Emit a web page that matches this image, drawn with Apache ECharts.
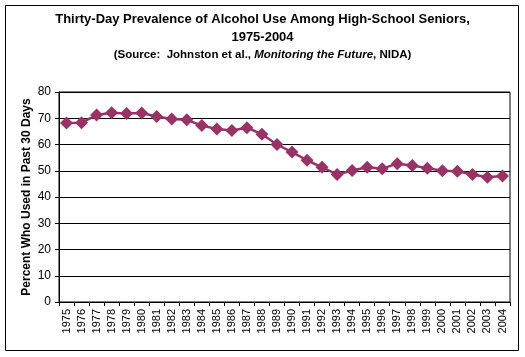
<!DOCTYPE html>
<html><head><meta charset="utf-8">
<script src="https://cdn.jsdelivr.net/npm/echarts@6/dist/echarts.min.js"></script>
<style>html,body{margin:0;padding:0;background:#fff}#c{width:525px;height:357px}</style>
</head><body><div id="c"></div>
<script>
var years = ['1975','1976','1977','1978','1979','1980','1981','1982','1983','1984','1985','1986','1987','1988','1989','1990','1991','1992','1993','1994','1995','1996','1997','1998','1999','2000','2001','2002','2003','2004'];
var prevalence = [68.2,68.3,71.2,72.1,71.8,72.0,70.7,69.7,69.4,67.2,65.9,65.3,66.4,63.9,60.0,57.1,54.0,51.3,48.6,50.1,51.3,50.8,52.7,52.0,51.0,50.0,49.8,48.6,47.5,48.0];
var yTicks = [0,10,20,30,40,50,60,70,80];

var chart = echarts.init(document.getElementById('c'), null, {renderer:'canvas'});
var F = 'Liberation Sans, Arial, sans-serif';
chart.setOption({
  backgroundColor:'#fff',
  animation:false,
  title:{
    left:'center', top:6, itemGap:0,
    text:'{a|Thirty-Day Prevalence of Alcohol Use Among High-School Seniors,}\n{a|1975-2004}\n{b|(Source:  Johnston et al., }{i|Monitoring the Future}{b|, NIDA)}',
    textStyle:{
      rich:{
        a:{fontFamily:F,fontSize:13,fontWeight:'bold',color:'#000',lineHeight:17.5},
        b:{fontFamily:F,fontSize:11.5,fontWeight:'bold',color:'#000',lineHeight:17.5},
        i:{fontFamily:F,fontSize:11.5,fontWeight:'bold',fontStyle:'italic',color:'#000',lineHeight:17.5}
      }
    }
  },
  graphic:[{type:'rect',shape:{x:5.5,y:5.5,width:513,height:345},style:{fill:null,stroke:'#000',lineWidth:1},silent:true,z:-1}],
  grid:{left:59,right:15,top:92,bottom:55,show:true,borderColor:'#000',borderWidth:1},
  xAxis:{
    type:'category', data:years, boundaryGap:true,
    axisLine:{lineStyle:{color:'#000',width:1}},
    axisTick:{show:true,alignWithLabel:false,length:4,lineStyle:{color:'#000'}},
    axisLabel:{rotate:90,interval:0,fontFamily:F,fontSize:11,color:'#000',margin:7}
  },
  yAxis:{
    type:'value', min:0, max:80, interval:10,
    name:'Percent Who Used in Past 30 Days', nameLocation:'middle', nameGap:26, nameMoveOverlap:false,
    nameTextStyle:{fontFamily:F,fontSize:12,fontWeight:'bold',color:'#000'},
    axisLine:{show:true,lineStyle:{color:'#000',width:1}},
    axisTick:{show:true,length:4,lineStyle:{color:'#000'}},
    axisLabel:{fontFamily:F,fontSize:12,color:'#000',margin:8},
    splitLine:{show:true,lineStyle:{color:'#000',width:1}}
  },
  series:[{
    type:'line', data:prevalence,
    symbol:'diamond', symbolSize:[13,13],
    lineStyle:{color:'#993366',width:2.5},
    itemStyle:{color:'#993366'}
  }]
});
</script></body></html>
